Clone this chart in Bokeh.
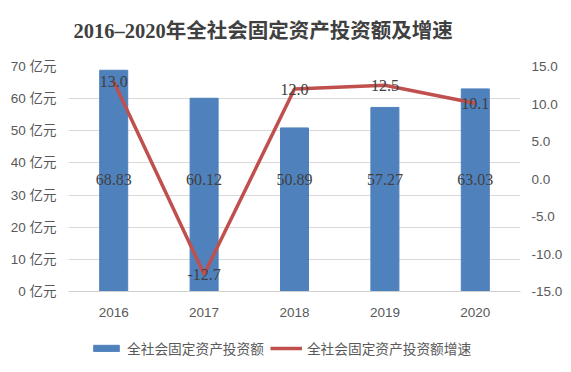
from bokeh.plotting import figure
from bokeh.layouts import column
from bokeh.models import (Range1d, LinearAxis, FactorRange, ColumnDataSource, Legend,
                          LegendItem, PrintfTickFormatter, FixedTicker, LabelSet, Label)
from bokeh.embed import file_html
from bokeh.resources import INLINE

years = ["2016", "2017", "2018", "2019", "2020"]
investment = [68.83, 60.12, 50.89, 57.27, 63.03]
growth = [13.0, -12.7, 12.0, 12.5, 10.1]
left_ticks = [0, 10, 20, 30, 40, 50, 60, 70]
right_ticks = [-15, -10, -5, 0, 5, 10, 15]
title_text = "2016–2020年全社会固定资产投资额及增速"
bar_name = "全社会固定资产投资额"
line_name = "全社会固定资产投资额增速"

BAR_COLOR = "#4F81BD"
LINE_COLOR = "#C0504D"
TXT = "#404040"
AX = "#595959"
FRAME_W = 452

y0, y1 = left_ticks[0], left_ticks[-1]
g0, g1 = right_ticks[0], right_ticks[-1]

src = ColumnDataSource(dict(
    x=years, inv=investment, gr=growth,
    inv_txt=[f"{v:.2f}" for v in investment],
    gr_txt=[f"{v:.1f}" for v in growth],
    mid=[(y0 + y1) / 2] * len(years),
))

# title strip (frame aligned with the chart's frame)
TITLE_H = 56
tf = figure(width=571, height=TITLE_H, x_range=Range1d(0, FRAME_W), y_range=Range1d(0, TITLE_H),
            x_axis_type=None, y_axis_type=None, output_backend="svg", toolbar_location=None,
            min_border=0)
tf.outline_line_color = None
tf.grid.grid_line_color = None
tf.add_layout(Label(x=5, y=26, text=title_text, text_align="left", text_baseline="middle",
                    text_font="'Liberation Serif', 'Noto Sans CJK SC'", text_font_style="bold",
                    text_font_size="20.5px", text_color=TXT))

p = figure(frame_width=FRAME_W, frame_height=225, x_range=FactorRange(*years, range_padding=0),
           y_range=Range1d(y0, y1), output_backend="svg", toolbar_location=None,
           min_border_left=68, min_border_right=51, min_border_top=10, min_border_bottom=34)
p.extra_y_ranges = {"g": Range1d(g0, g1)}
p.outline_line_color = None
p.background_fill_color = "white"
p.border_fill_color = "white"

bars = p.vbar(x="x", top="inv", width=0.31, source=src, color=BAR_COLOR)
line = p.line(x="x", y="gr", source=src, y_range_name="g", color=LINE_COLOR, line_width=3.5)

label_font = "'Liberation Serif', 'Noto Sans CJK SC'"
p.add_layout(LabelSet(x="x", y="mid", text="inv_txt", source=src, text_align="center",
                      text_baseline="middle", text_font=label_font, text_font_size="16px",
                      text_color=TXT))
p.add_layout(LabelSet(x="x", y="gr", y_range_name="g", text="gr_txt", source=src,
                      text_align="center", text_baseline="middle", text_font=label_font,
                      text_font_size="16px", text_color=TXT))

# axes
p.yaxis.ticker = FixedTicker(ticks=left_ticks)
p.yaxis.formatter = PrintfTickFormatter(format="%d 亿元")
ra = LinearAxis(y_range_name="g", ticker=FixedTicker(ticks=right_ticks),
                formatter=PrintfTickFormatter(format="%.1f"))
p.add_layout(ra, "right")
for ax in [p.yaxis[0], ra, p.xaxis[0]]:
    ax.major_tick_line_color = None
    ax.minor_tick_line_color = None
    ax.major_label_text_font = "'Liberation Sans', 'Noto Sans CJK SC'"
    ax.major_label_text_font_size = "13.5px"
    ax.major_label_text_color = AX
p.yaxis[0].axis_line_color = None
ra.axis_line_color = None
p.yaxis[0].major_label_standoff = 6
ra.major_label_standoff = 5
p.xaxis[0].axis_line_color = "#D0D0D0"
p.xaxis[0].major_label_standoff = 10

p.xgrid.grid_line_color = None
p.ygrid.ticker = FixedTicker(ticks=left_ticks)
p.ygrid.grid_line_color = "#D9D9D9"

# legend strip below the chart (its frame is aligned with the chart's frame)
nan = float("nan")
lg = figure(width=571, height=47, x_range=Range1d(0, 1), y_range=Range1d(0, 1),
            x_axis_type=None, y_axis_type=None, output_backend="svg", toolbar_location=None,
            min_border=0)
lg.outline_line_color = None
lg.grid.grid_line_color = None
lb = lg.vbar(x=[nan], top=[nan], width=0.31, color=BAR_COLOR)
ll = lg.line(x=[nan, nan], y=[nan, nan], color=LINE_COLOR, line_width=3.5)
legend = Legend(items=[LegendItem(label=bar_name, renderers=[lb]),
                       LegendItem(label=line_name, renderers=[ll])],
                orientation="horizontal", location=(22, 14),
                glyph_width=32, glyph_height=8, label_standoff=5, spacing=6,
                label_text_font="'Liberation Serif', 'Noto Sans CJK SC'",
                label_text_font_size="13.7px", label_text_color=AX,
                border_line_color=None, background_fill_alpha=0,
                margin=0, padding=0)
lg.add_layout(legend)

open("out.html", "w").write(file_html(column(tf, p, lg, spacing=0), INLINE))
